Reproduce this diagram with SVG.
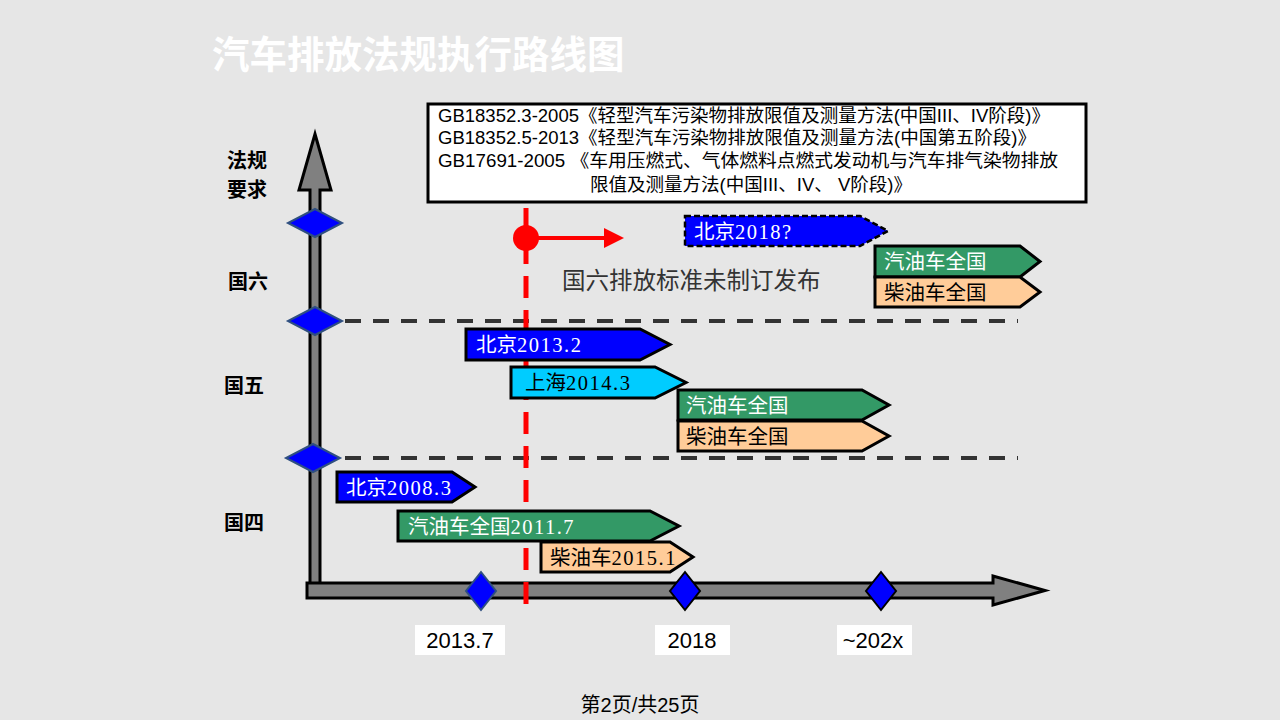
<svg xmlns="http://www.w3.org/2000/svg" width="1280" height="720" viewBox="0 0 1280 720">
<defs>
<style>
.cjk{font-family:"Noto Sans CJK SC","Noto Sans",sans-serif}
.ser{font-family:"Liberation Serif","Noto Sans CJK SC",serif}
.num{font-family:"Liberation Serif",serif;letter-spacing:1.5px}
.ar{font-family:"Liberation Sans","Noto Sans CJK SC",sans-serif}
.tag{stroke:#000;stroke-width:3;stroke-linejoin:miter}
.dia{fill:#0000ff;stroke:#2f4f80;stroke-width:2}
.diab{fill:#0000ff;stroke:#000;stroke-width:2}
.lbl{font-size:20px;font-weight:bold;fill:#000}
.tt{font-size:20.5px}
.grid{stroke:#333;stroke-width:4;stroke-dasharray:16 12;fill:none}
</style>
<marker id="rarrow" markerWidth="5" markerHeight="5" refX="1" refY="2.5" orient="auto" markerUnits="strokeWidth">
<path d="M0,0 L5,2.5 L0,5 z" fill="#ff0000"/>
</marker>
</defs>
<rect width="1280" height="720" fill="#e6e6e6"/>
<text x="212" y="68" class="cjk" font-size="37.5" font-weight="bold" fill="#ffffff">汽车排放法规执行路线图</text>

<g id="standards-box">
<rect x="428" y="104" width="658" height="98" fill="#ffffff" stroke="#000" stroke-width="3"/>
<g class="ar" font-size="18" fill="#000">
<text x="438" y="122" textLength="612" lengthAdjust="spacingAndGlyphs">GB18352.3-2005《轻型汽车污染物排放限值及测量方法(中国III、IV阶段)》</text>
<text x="438" y="144" textLength="598" lengthAdjust="spacingAndGlyphs">GB18352.5-2013《轻型汽车污染物排放限值及测量方法(中国第五阶段)》</text>
<text x="438" y="167" textLength="620" lengthAdjust="spacingAndGlyphs">GB17691-2005 《车用压燃式、气体燃料点燃式发动机与汽车排气染物排放</text>
<text x="590" y="191" textLength="322" lengthAdjust="spacingAndGlyphs">限值及测量方法(中国III、IV、 V阶段)》</text>
</g>
</g>

<g id="axes">
<path d="M310,590 L310,190 L299,190 L315,134 L331,190 L320,190 L320,590 Z" fill="#808080" stroke="#000" stroke-width="3"/>
<path d="M307,583 L993,583 L993,576 L1045,590.5 L993,605 L993,598 L307,598 Z" fill="#808080" stroke="#000" stroke-width="3"/>
</g>

<g id="connectors">
<line x1="345" y1="321" x2="1018" y2="321" class="grid"/>
<line x1="345" y1="458" x2="1018" y2="458" class="grid"/>
<line x1="526" y1="208" x2="526" y2="614" stroke="#ff0000" stroke-width="5" stroke-dasharray="22 12"/>
<circle cx="526" cy="238" r="13" fill="#ff0000"/>
<line x1="526" y1="238" x2="608" y2="238" stroke="#ff0000" stroke-width="4" marker-end="url(#rarrow)"/>
</g>

<g id="axis-diamonds">
<path d="M315,209 L342,223 L315,237 L288,223 Z" class="dia"/>
<path d="M315,307 L342,321 L315,335 L288,321 Z" class="dia"/>
<path d="M313,444 L340,458 L313,472 L286,458 Z" class="dia"/>
<path d="M481,572 L496,591 L481,610 L466,591 Z" class="dia"/>
<path d="M685,572 L700,591 L685,610 L670,591 Z" class="diab"/>
<path d="M881,572 L896,591 L881,610 L866,591 Z" class="diab"/>
</g>

<g id="left-labels" class="cjk">
<text x="227" y="168" class="lbl">法规</text>
<text x="227" y="197" class="lbl">要求</text>
<text x="228" y="289" class="lbl">国六</text>
<text x="224" y="393" class="lbl">国五</text>
<text x="224" y="530" class="lbl">国四</text>
</g>

<g id="note-guoliu">
<text x="562" y="289" class="ser" font-size="23.5" fill="#333">国六排放标准未制订发布</text>
</g>

<g id="bj2018">
<path d="M685,216 L860,216 L888,231 L860,246 L685,246 Z" fill="#0000ff" stroke="#000" stroke-width="2.5" stroke-dasharray="6 3"/>
<text x="694" y="239" class="tt" fill="#fff"><tspan class="cjk">北京</tspan><tspan class="num">2018?</tspan></text>
</g>
<g id="gas6">
<path d="M875,246 L1020,246 L1040,261.5 L1020,277 L875,277 Z" fill="#339966" class="tag"/>
<text x="884" y="269" class="cjk tt" fill="#fff">汽油车全国</text>
</g>
<g id="diesel6">
<path d="M875,277 L1020,277 L1040,292 L1020,307 L875,307 Z" fill="#ffcc99" class="tag"/>
<text x="884" y="300" class="cjk tt" fill="#000">柴油车全国</text>
</g>

<g id="bj2013">
<path d="M466,329 L640,329 L670,344.5 L640,360 L466,360 Z" fill="#0000ff" class="tag"/>
<text x="476" y="352" class="tt" fill="#fff"><tspan class="cjk">北京</tspan><tspan class="num">2013.2</tspan></text>
</g>
<g id="sh2014">
<path d="M511,367 L655,367 L686,382.5 L655,398 L511,398 Z" fill="#00ccff" class="tag"/>
<text x="525" y="390" class="tt" fill="#000"><tspan class="cjk">上海</tspan><tspan class="num">2014.3</tspan></text>
</g>
<g id="gas5">
<path d="M678,390 L862,390 L889,405 L862,420 L678,420 Z" fill="#339966" class="tag"/>
<text x="686" y="413" class="cjk tt" fill="#fff">汽油车全国</text>
</g>
<g id="diesel5">
<path d="M678,421 L862,421 L889,436 L862,451 L678,451 Z" fill="#ffcc99" class="tag"/>
<text x="686" y="444" class="cjk tt" fill="#000">柴油车全国</text>
</g>

<g id="bj2008">
<path d="M337,472 L452,472 L475,487 L452,502 L337,502 Z" fill="#0000ff" class="tag"/>
<text x="346" y="495" class="tt" fill="#fff"><tspan class="cjk">北京</tspan><tspan class="num">2008.3</tspan></text>
</g>
<g id="gas4">
<path d="M398,511 L650,511 L679,526 L650,541 L398,541 Z" fill="#339966" class="tag"/>
<text x="408" y="534" class="tt" fill="#fff"><tspan class="cjk">汽油车全国</tspan><tspan class="num">2011.7</tspan></text>
</g>
<g id="diesel4">
<path d="M541,542 L670,542 L693,557 L670,572 L541,572 Z" fill="#ffcc99" class="tag"/>
<text x="550" y="565" class="tt" fill="#000"><tspan class="cjk">柴油车</tspan><tspan class="num">2015.1</tspan></text>
</g>

<g id="year-labels" class="ar">
<rect x="415" y="625" width="90" height="30" fill="#fff"/>
<text x="460" y="648" font-size="22" text-anchor="middle" fill="#000">2013.7</text>
<rect x="655" y="625" width="75" height="30" fill="#fff"/>
<text x="692" y="648" font-size="22" text-anchor="middle" fill="#000">2018</text>
<rect x="837" y="625" width="75" height="30" fill="#fff"/>
<text x="873" y="648" font-size="22" text-anchor="middle" fill="#000">~202x</text>
</g>

<text x="640" y="712" class="ar" font-size="20" text-anchor="middle" fill="#000">第2页/共25页</text>
</svg>
